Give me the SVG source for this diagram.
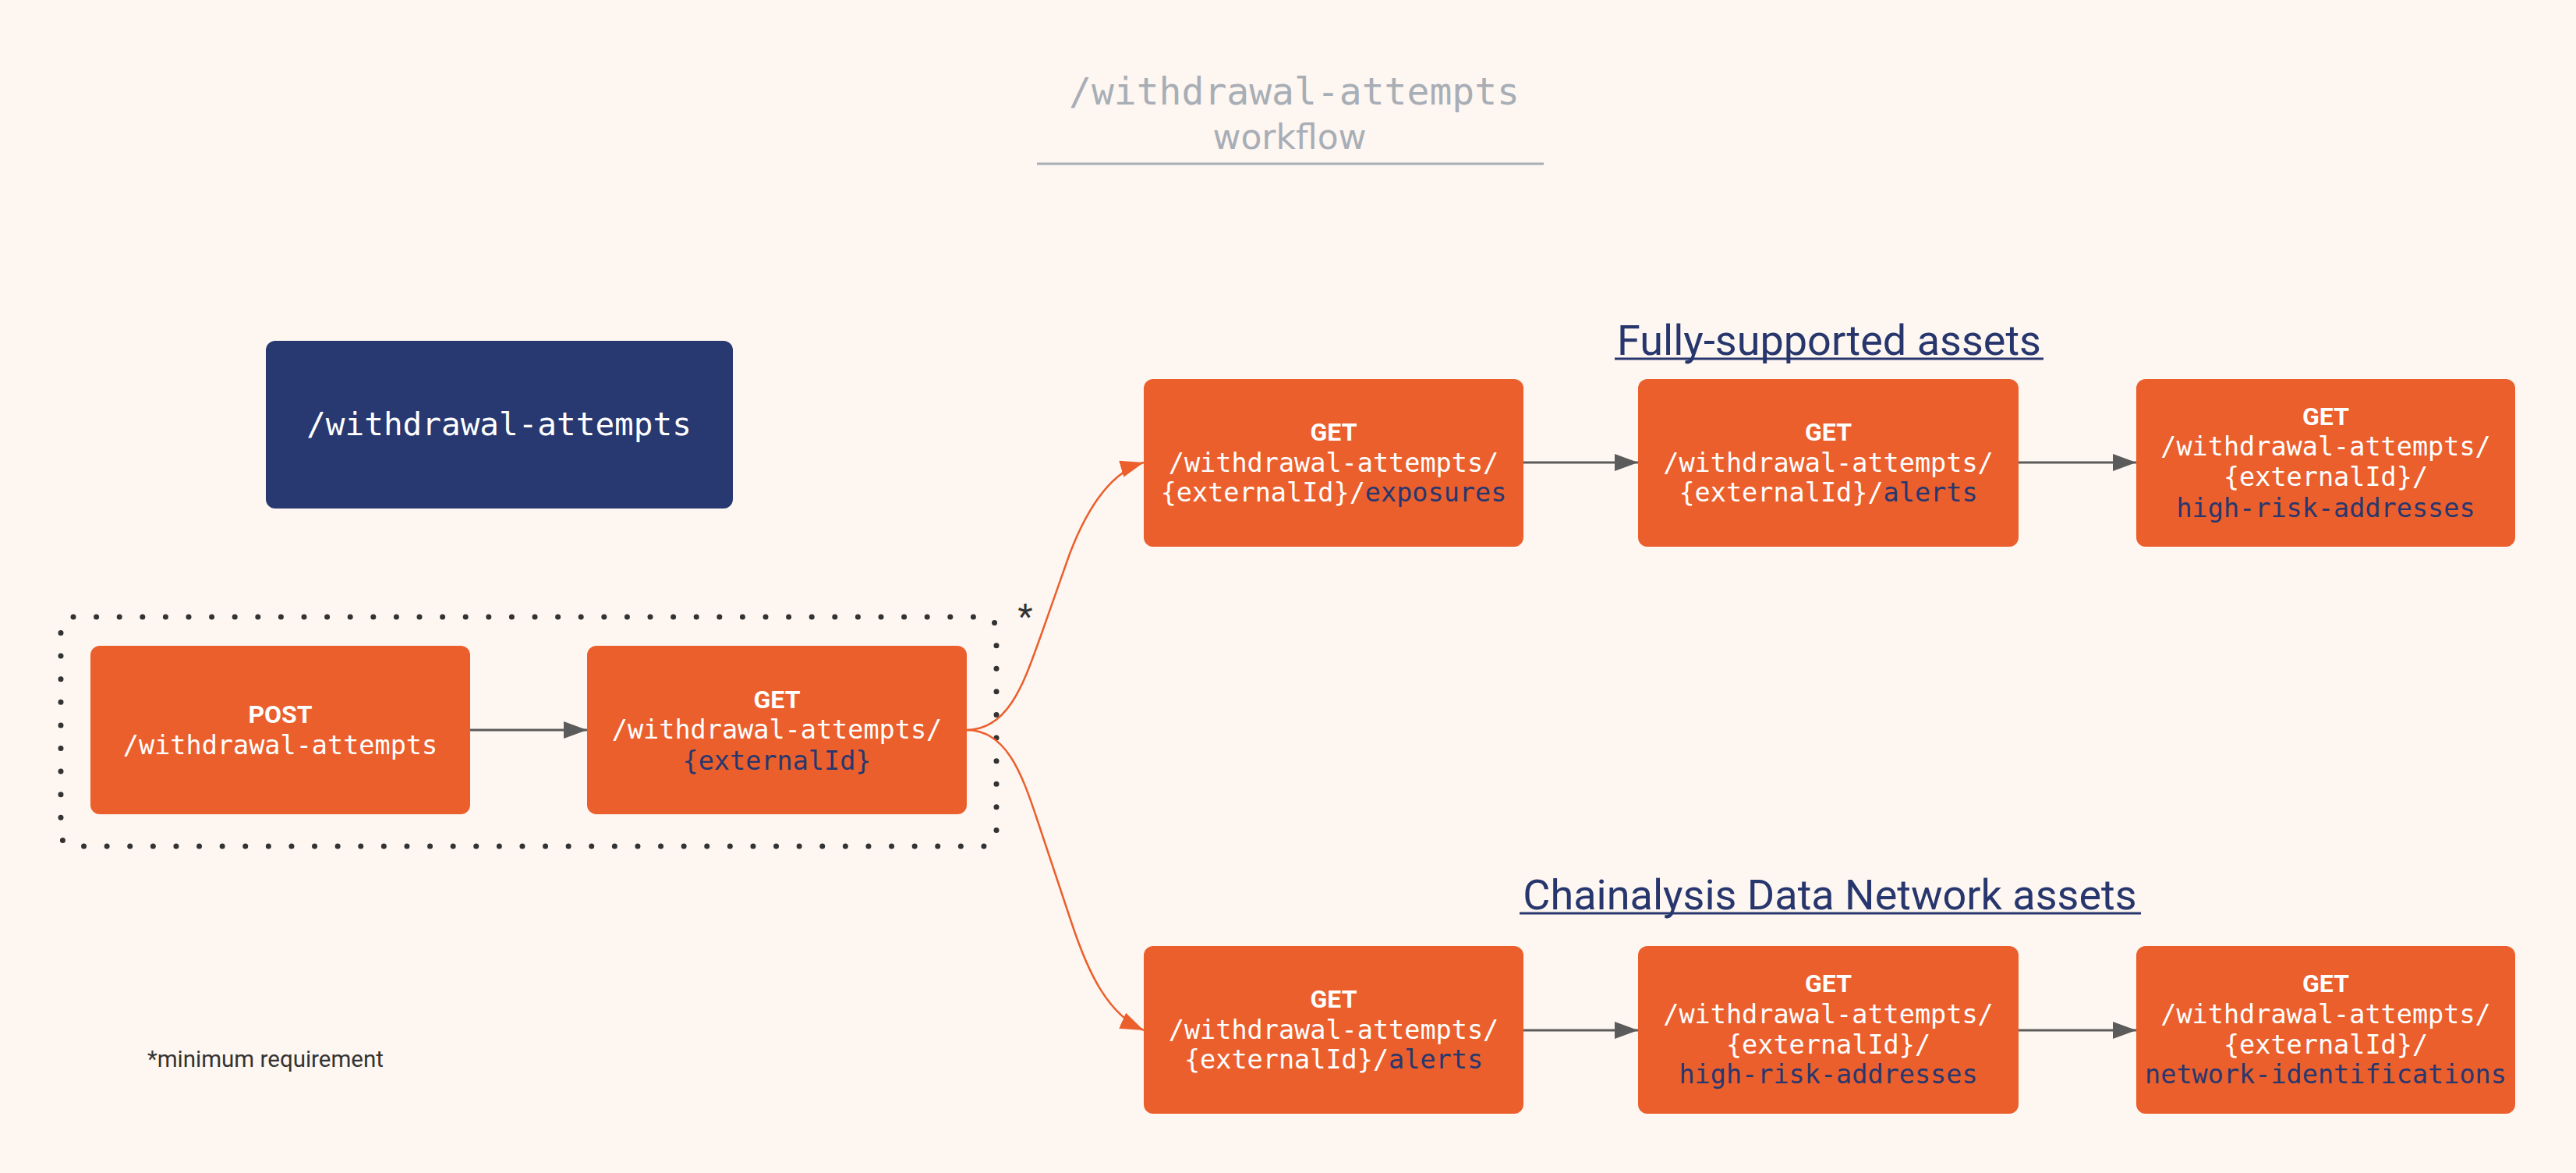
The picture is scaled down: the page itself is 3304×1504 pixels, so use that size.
<svg xmlns="http://www.w3.org/2000/svg" width="3304" height="1504" viewBox="0 0 3304 1504">
<defs>
<style>
.bg{fill:#FEF6F0}
.box{fill:#EB5F2D}
.nav{fill:#283870}
.m{font-family:"DejaVu Sans Mono","Liberation Mono",monospace;font-size:33.5px;fill:#FFFFFF;text-anchor:middle}
.big{font-size:41px}
.b{font-family:Roboto,"Liberation Sans",sans-serif;font-weight:bold;font-size:32px;fill:#FFFFFF;text-anchor:middle}
.hl{fill:#27376E}
.hdr{font-family:Roboto,"Liberation Sans",sans-serif;font-size:54px;fill:#27376E;text-anchor:middle}
.gray{stroke:#5B5B5B;stroke-width:3;fill:none}
.org{stroke:#EB5F2D;stroke-width:2.5;fill:none}
</style>
<marker id="ag" markerUnits="userSpaceOnUse" markerWidth="32" markerHeight="24" refX="30" refY="11" orient="auto"><path d="M0,0 L30,11 L0,22 Z" fill="#5B5B5B"/></marker>
<marker id="ao" markerUnits="userSpaceOnUse" markerWidth="32" markerHeight="24" refX="30" refY="11" orient="auto"><path d="M0,0 L30,11 L0,22 Z" fill="#EB5F2D"/></marker>
</defs>
<rect class="bg" x="0" y="0" width="3304" height="1504"/>

<g id="title">
<text x="1660" y="134" font-family="DejaVu Sans Mono, monospace" font-size="48" fill="#A8AEB6" text-anchor="middle">/withdrawal-attempts</text>
<text x="1654" y="191" font-family="DejaVu Sans, sans-serif" font-size="44" fill="#A8AEB6" text-anchor="middle">workflow</text>
<line x1="1330" y1="210" x2="1980" y2="210" stroke="#A8AEB6" stroke-width="3"/>
</g>

<g id="resource">
<rect class="nav" x="341" y="437" width="599" height="215" rx="12"/>
<text class="m big" x="640" y="558">/withdrawal-attempts</text>
</g>

<g id="min-group">
<rect x="78" y="791" width="1200" height="294" rx="16" fill="none" stroke="#333333" stroke-width="7" stroke-linecap="round" stroke-dasharray="0 29.6"/>
<text x="1315" y="806" font-family="Roboto, sans-serif" font-size="44" fill="#333333" text-anchor="middle">*</text>
</g>

<g id="connectors">
<line class="gray" x1="603" y1="936" x2="753" y2="936" marker-end="url(#ag)"/>
<line class="gray" x1="1953" y1="593" x2="2101" y2="593" marker-end="url(#ag)"/>
<line class="gray" x1="2589" y1="593" x2="2740" y2="593" marker-end="url(#ag)"/>
<line class="gray" x1="1953" y1="1321" x2="2101" y2="1321" marker-end="url(#ag)"/>
<line class="gray" x1="2589" y1="1321" x2="2740" y2="1321" marker-end="url(#ag)"/>
<path class="org" d="M1240,936 C1295,936 1315,870 1335,815 L1372,710 C1395,650 1425,605 1467,593" marker-end="url(#ao)"/>
<path class="org" d="M1240,936 C1290,936 1310,990 1330,1050 L1375,1185 C1395,1245 1420,1300 1467,1321" marker-end="url(#ao)"/>
</g>

<g id="post">
<rect class="box" x="116" y="828" width="487" height="216" rx="12"/>
<text class="b" x="359.5" y="927">POST</text>
<text class="m" x="359.5" y="967">/withdrawal-attempts</text>
</g>

<g id="get">
<rect class="box" x="753" y="828" width="487" height="216" rx="12"/>
<text class="b" x="996.5" y="908">GET</text>
<text class="m" x="996.5" y="947">/withdrawal-attempts/</text>
<text class="m hl" x="996.5" y="987">{externalId}</text>
</g>

<g id="hdr-full">
<text class="hdr" x="2346" y="455">Fully-supported assets</text>
<line x1="2071" y1="460" x2="2621" y2="460" stroke="#27376E" stroke-width="3"/>
</g>

<g id="get-exposures">
<rect class="box" x="1467" y="486" width="487" height="215" rx="12"/>
<text class="b" x="1710.5" y="565">GET</text>
<text class="m" x="1710.5" y="605">/withdrawal-attempts/</text>
<text class="m" x="1710.5" y="643">{externalId}/<tspan class="hl">exposures</tspan></text>
</g>

<g id="get-alerts">
<rect class="box" x="2101" y="486" width="488" height="215" rx="12"/>
<text class="b" x="2345" y="565">GET</text>
<text class="m" x="2345" y="605">/withdrawal-attempts/</text>
<text class="m" x="2345" y="643">{externalId}/<tspan class="hl">alerts</tspan></text>
</g>

<g id="get-hra">
<rect class="box" x="2740" y="486" width="486" height="215" rx="12"/>
<text class="b" x="2983" y="545">GET</text>
<text class="m" x="2983" y="584">/withdrawal-attempts/</text>
<text class="m" x="2983" y="623">{externalId}/</text>
<text class="m hl" x="2983" y="663">high-risk-addresses</text>
</g>

<g id="hdr-cdn">
<text class="hdr" x="2347" y="1166">Chainalysis Data Network assets</text>
<line x1="1949" y1="1171" x2="2746" y2="1171" stroke="#27376E" stroke-width="3"/>
</g>

<g id="cdn-alerts">
<rect class="box" x="1467" y="1213" width="487" height="215" rx="12"/>
<text class="b" x="1710.5" y="1292">GET</text>
<text class="m" x="1710.5" y="1332">/withdrawal-attempts/</text>
<text class="m" x="1710.5" y="1370">{externalId}/<tspan class="hl">alerts</tspan></text>
</g>

<g id="cdn-hra">
<rect class="box" x="2101" y="1213" width="488" height="215" rx="12"/>
<text class="b" x="2345" y="1272">GET</text>
<text class="m" x="2345" y="1312">/withdrawal-attempts/</text>
<text class="m" x="2345" y="1351">{externalId}/</text>
<text class="m hl" x="2345" y="1389">high-risk-addresses</text>
</g>

<g id="cdn-netid">
<rect class="box" x="2740" y="1213" width="486" height="215" rx="12"/>
<text class="b" x="2983" y="1272">GET</text>
<text class="m" x="2983" y="1312">/withdrawal-attempts/</text>
<text class="m" x="2983" y="1351">{externalId}/</text>
<text class="m hl" x="2983" y="1389">network-identifications</text>
</g>

<g id="note">
<text x="189" y="1368" font-family="Roboto, sans-serif" font-size="29.5" fill="#333333">*minimum requirement</text>
</g>
</svg>
